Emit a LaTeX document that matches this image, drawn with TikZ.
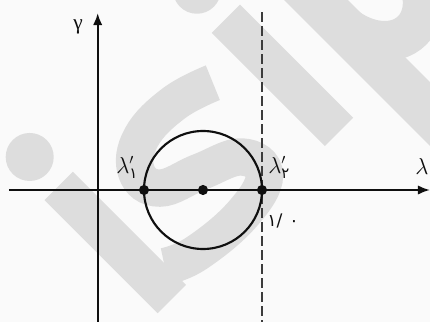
\documentclass[tikz,border=0pt]{standalone}
\usepackage{fontspec}
\usepackage{amsmath}
\newfontfamily\grfont{Liberation Serif}
\newfontfamily\pfont{DejaVu Sans}
\usetikzlibrary{arrows.meta}
\definecolor{bgc}{RGB}{250,250,250}
\definecolor{wmc}{RGB}{221,221,221}
\definecolor{dashc}{RGB}{60,60,60}
\definecolor{ink}{RGB}{15,15,15}
\begin{document}
\begin{tikzpicture}[x=0.75pt, y=-0.75pt,
  axisline/.style={draw=ink, line width=1.6pt, -{Latex[length=9pt,width=7pt]}},
  curveline/.style={draw=ink, line width=1.6pt},
  dashline/.style={draw=dashc, line width=1.1pt, dash pattern=on 7.5pt off 3pt},
  dotnode/.style={circle, fill=ink, inner sep=0pt, minimum size=7.6pt},
  lab/.style={inner sep=0pt, text=ink, font=\fontsize{16}{19}\selectfont},
  labsmall/.style={inner sep=0pt, text=ink, font=\fontsize{13}{15}\selectfont},
  wmstroke/.style={draw=wmc, line cap=butt}]
% background and bounding box
\fill[bgc] (0,0) rectangle (430,322);
\useasboundingbox (0,0) rectangle (430,322);
% watermark
\begin{scope}
  \clip (0,0) rectangle (430,322);
  \begin{scope}[x={(0.5303pt,0.5303pt)}, y={(-0.5303pt,0.5303pt)}]
    \fill[wmc] (-90,-132) circle[radius=24];
    \draw[wmstroke, line width=30pt] (-90,-333) -- (-90,-173);
    \draw[wmstroke, line width=28pt] plot[smooth, tension=0.7] coordinates
      {(92,-209) (50,-196) (3,-197) (-25,-218) (-20,-246) (20,-263) (60,-282) (63,-311) (20,-323) (-40,-318) (-72,-305)};
    \fill[wmc] (146.5,-132) circle[radius=24];
    \draw[wmstroke, line width=30pt] (146.5,-333) -- (146.5,-173);
    \draw[wmstroke, line width=33.75pt] (223.5,-173) -- (223.5,-460);
    \draw[wmstroke, line width=30pt] (270,-253) ellipse[x radius=45, y radius=60];
  \end{scope}
\end{scope}
% axes
\coordinate (xs) at (9,190);
\coordinate (xe) at (430,190);
\coordinate (ys) at (97.7,322);
\coordinate (ye) at (97.7,13);
\coordinate (ds) at (262,12);
\coordinate (de) at (262,322);
\draw[dashline] (ds) -- (de);
\draw[axisline] (xs) -- (xe);
\draw[axisline] (ys) -- (ye);
% circle and points
\node[dotnode] (c) at (203,190) {};
\node[dotnode] (p1) at (144,190) {};
\node[dotnode] (p2) at (262,190) {};
\draw[curveline] (c.center) circle[radius=59];
% labels
\node[lab, anchor=base west] (gl) at (73,29.5) {\grfont γ};
\node[lab, anchor=base west] (xl) at (415,174) {$\lambda$};
\node[lab, anchor=base west] (l1) at (116,173) {$\lambda'_{\text{\pfont ۱}}$};
\node[lab, anchor=base west] (l2) at (268,173) {$\lambda'_{\text{\pfont ۲}}$};
\node[labsmall, anchor=base west] (v) at (267,226) {\pfont ۱/\hspace{0.4em}۰};
\end{tikzpicture}
\end{document}
